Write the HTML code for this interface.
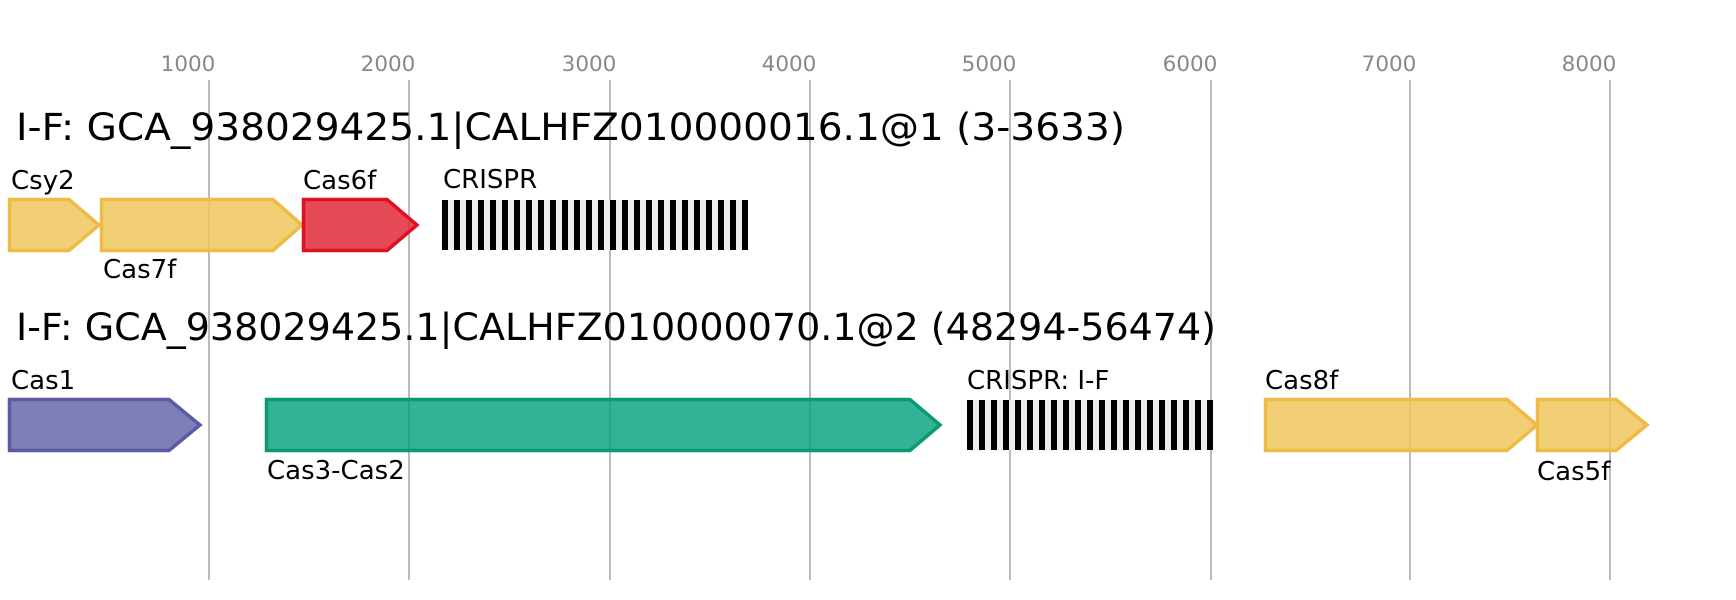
<!DOCTYPE html>
<html><head><meta charset="utf-8"><style>html,body{margin:0;padding:0;background:#fff}svg{display:block}</style></head>
<body>
<svg width="1736" height="600" xmlns="http://www.w3.org/2000/svg" font-family="DejaVu Sans, Liberation Sans, sans-serif">
<defs>
<pattern id="cr" x="442" y="0" width="12" height="10" patternUnits="userSpaceOnUse">
<rect x="0" y="0" width="12" height="10" fill="#eeeeee"/><rect x="0" y="0" width="6" height="10" fill="#000"/>
</pattern>
<pattern id="cr2" x="967" y="0" width="12" height="10" patternUnits="userSpaceOnUse">
<rect x="0" y="0" width="12" height="10" fill="#eeeeee"/><rect x="0" y="0" width="6" height="10" fill="#000"/>
</pattern>
</defs>
<g stroke="#bbbbbb" stroke-width="2">
<line x1="209" y1="80" x2="209" y2="580"/><line x1="409" y1="80" x2="409" y2="580"/><line x1="610" y1="80" x2="610" y2="580"/><line x1="810" y1="80" x2="810" y2="580"/><line x1="1010" y1="80" x2="1010" y2="580"/><line x1="1211" y1="80" x2="1211" y2="580"/><line x1="1410" y1="80" x2="1410" y2="580"/><line x1="1610" y1="80" x2="1610" y2="580"/>
</g>
<g fill="#888" font-size="21.5" text-anchor="middle">
<text x="188" y="71">1000</text><text x="388" y="71">2000</text><text x="589" y="71">3000</text><text x="789" y="71">4000</text><text x="989" y="71">5000</text><text x="1190" y="71">6000</text><text x="1389" y="71">7000</text><text x="1589" y="71">8000</text>
</g>
<g font-size="37" fill="#000">
<text x="16" y="140" textLength="1109" lengthAdjust="spacingAndGlyphs">I-F: GCA_938029425.1|CALHFZ010000016.1@1 (3-3633)</text>
<text x="16" y="340" textLength="1200" lengthAdjust="spacingAndGlyphs">I-F: GCA_938029425.1|CALHFZ010000070.1@2 (48294-56474)</text>
</g>
<g stroke-width="3.5">
<polygon points="9.5,199.5 69,199.5 99,225 69,250.5 9.5,250.5" fill="#f0c55e" fill-opacity="0.85" stroke="#eebb44"/>
<polygon points="101.5,199.5 273,199.5 302,225 273,250.5 101.5,250.5" fill="#f0c55e" fill-opacity="0.85" stroke="#eebb44"/>
<polygon points="303.5,199.5 387,199.5 417,225 387,250.5 303.5,250.5" fill="#e02a38" fill-opacity="0.85" stroke="#dd1122"/>
<polygon points="9.5,399.5 169,399.5 200,425 169,450.5 9.5,450.5" fill="#5e5ea8" fill-opacity="0.8" stroke="#5b5ba5"/>
<polygon points="266.5,399.5 910,399.5 940,425 910,450.5 266.5,450.5" fill="#00a07a" fill-opacity="0.8" stroke="#0a9a72"/>
<polygon points="1265.5,399.5 1507,399.5 1537,425 1507,450.5 1265.5,450.5" fill="#f0c55e" fill-opacity="0.85" stroke="#eebb44"/>
<polygon points="1537.5,399.5 1616,399.5 1647,425 1616,450.5 1537.5,450.5" fill="#f0c55e" fill-opacity="0.85" stroke="#eebb44"/>
</g>
<rect x="442" y="200" width="306" height="50" fill="url(#cr)"/>
<rect x="967" y="400" width="246" height="50" fill="url(#cr2)"/>
<g font-size="26" fill="#000">
<text x="11" y="189">Csy2</text>
<text x="103" y="278">Cas7f</text>
<text x="303" y="189">Cas6f</text>
<text x="443" y="188">CRISPR</text>
<text x="11" y="389">Cas1</text>
<text x="267" y="479">Cas3-Cas2</text>
<text x="967" y="389">CRISPR: I-F</text>
<text x="1265" y="389">Cas8f</text>
<text x="1537" y="480">Cas5f</text>
</g>
</svg>
</body></html>
